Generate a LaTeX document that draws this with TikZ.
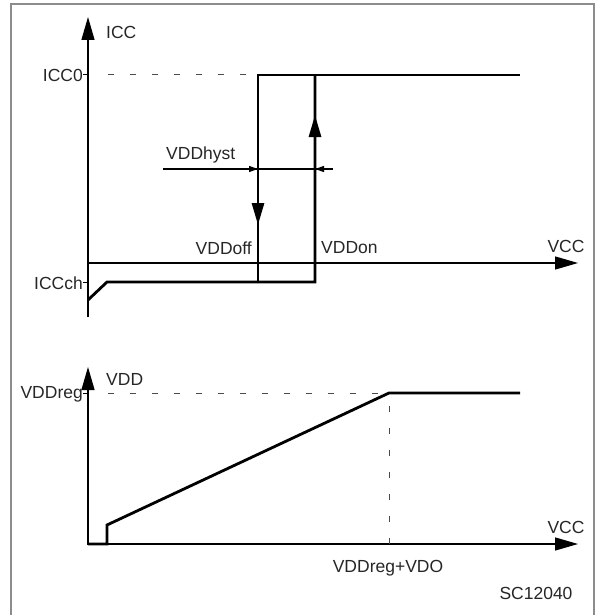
\documentclass[tikz,border=0pt]{standalone}
\usepackage{fontspec}
\setmainfont{Liberation Sans}
\usetikzlibrary{arrows.meta}

\begin{document}
\begin{tikzpicture}[x=1pt,y=-1pt,
    lbl/.style={inner sep=0pt,font=\fontsize{17.5}{20}\selectfont,text=black!85},
    axis/.style={line width=1.3pt,-{Triangle[length=23pt,width=13pt]}},
    curve/.style={line width=2.8pt,line join=miter},
    guide/.style={line width=1pt,dash pattern=on 6pt off 16pt,black!70},
    mid/.style={line width=2.8pt,-{Triangle[length=22pt,width=12pt]}},
    dim/.style={line width=1.2pt,-{Triangle[length=9pt,width=6pt]}}]
    \useasboundingbox (0,0) rectangle (595,615);
    % frame
    \draw[line width=2pt,black!45] (11,615) -- (11,4) -- (594,4) -- (594,615);
    % upper plot: ICC against VCC
    \draw[axis] (88,317) -- (88,17) coordinate (icctip);
    \draw[axis] (88,263) -- (578,263) coordinate (vcctip);
    \node[lbl,anchor=west] (icc) at (106,32) {ICC};
    \node[lbl] (vcc) at (566,246) {VCC};
    \draw[line width=1pt] (83,75) -- (88,75);
    \draw[line width=1pt] (83,282) -- (88,282);
    \node[lbl,anchor=east] (icc0) at (83,75) {ICC0};
    \node[lbl,anchor=east] (iccch) at (83,283) {ICCch};
    \draw[guide] (108,75) -- (257,75);
    \draw[curve] (88,300) -- (107,282) -- (315,282) -- (315,75);
    \draw[curve] (258,282) -- (258,75) -- (520,75);
    \draw[mid] (258,190) -- (258,225);
    \draw[mid] (315,150) -- (315,115);
    % hysteresis
    \draw[line width=1.2pt] (163,169) -- (333,169);
    \draw[dim] (240,169) -- (258,169);
    \draw[dim] (333,169) -- (315,169);
    \node[lbl,anchor=west] (hyst) at (166,155) {VDDhyst};
    \node[lbl,anchor=east] (off) at (252,248) {VDDoff};
    \node[lbl,anchor=west] (on) at (321,248) {VDDon};
    % lower plot: VDD against VCC
    \draw[axis] (88,545) -- (88,367) coordinate (vddtip);
    \draw[axis] (88,544) -- (578,544) coordinate (vcctip2);
    \node[lbl,anchor=west] (vdd) at (106,379) {VDD};
    \node[lbl] (vcc2) at (566,527) {VCC};
    \draw[line width=1pt] (83,393) -- (88,393);
    \node[lbl,anchor=east] (vddreg) at (83,394) {VDDreg};
    \draw[guide] (108,393) -- (387,393);
    \draw[guide] (389,544) -- (389,400);
    \draw[curve] (88,544) -- (107,544) -- (107,525) -- (389,393) -- (520,393);
    \node[lbl] (vdo) at (388,568) {VDDreg+VDO};
    \node[lbl] (code) at (536,593) {SC12040};
\end{tikzpicture}
\end{document}
